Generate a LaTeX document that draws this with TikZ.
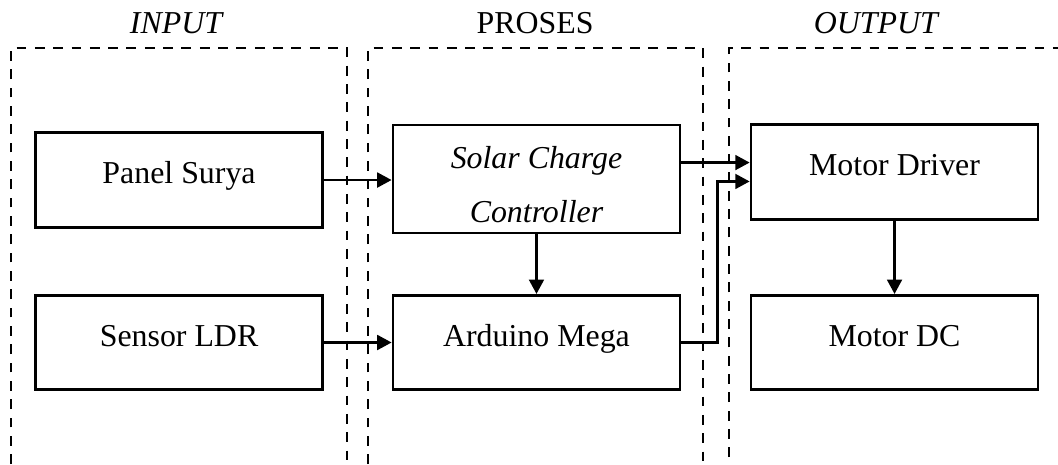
\documentclass[tikz,border=0pt]{standalone}
\usepackage{fontspec}
\setmainfont{Liberation Serif}
\usepackage{tikz}
\usetikzlibrary{positioning,arrows.meta,calc}

\begin{document}
\begin{tikzpicture}[
  font=\fontsize{12}{14}\selectfont,
  kotak/.style={
    draw=black, line width=1pt,
    minimum width=3.8cm, minimum height=1.25cm,
    fill=white, inner sep=2pt,
  },
  blok/.style={kotak, text height=8.5pt, text depth=5.7pt},
  blokdua/.style={kotak, minimum height=1.43cm, align=center,
    font=\fontsize{12}{20}\selectfont\itshape},
  panah/.style={draw=black, line width=0.85pt,
    -{Triangle[length=5.4pt,width=5.6pt]}},
  garis/.style={draw=black, line width=0.95pt,
    dash pattern=on 3.7pt off 3.2pt},
  judul/.style={font=\fontsize{12}{14}\selectfont, inner sep=1pt},
]

% ====================================================================
% Blok diagram sistem: INPUT - PROSES - OUTPUT
% ====================================================================

\useasboundingbox (0,0) rectangle (14,-6.14);

% === KELOMPOK (garis putus-putus, terbuka di bawah) ===
\draw[garis] (0.146,-6.14) |- (4.592,-0.635) -- (4.592,-6.14);
\draw[garis] (4.870,-6.14) |- (9.303,-0.635) -- (9.303,-6.14);
\draw[garis] (9.647,-6.05) |- (14.05,-0.635);

\node[judul] (tin)  at (2.329,-0.304)  {\itshape INPUT};
\node[judul] (tpro) at (7.080,-0.304)  {PROSES};
\node[judul] (tout) at (11.590,-0.304) {\itshape OUTPUT};

% === INPUT ===
\node[blok] (ps)  at (2.369,-2.382) {Panel Surya};
\node[blok] (ldr) at (2.369,-4.532) {Sensor LDR};

% === PROSES ===
\node[blokdua] (scc) at (7.099,-2.369) {\rule{0pt}{12.5pt}Solar Charge\\Controller};
\node[blok] (ard) at (7.099,-4.532) {Arduino Mega};

% === OUTPUT ===
\node[blok] (md) at (11.837,-2.276) {Motor Driver};
\node[blok] (dc) at (11.837,-4.532) {Motor DC};

% --- input ke proses ---
\draw[panah] (ps.east) -- (ps.east -| scc.west);
\draw[panah] (ldr.east) -- (ard.west);

% --- SCC ke Arduino ---
\draw[panah] (scc.south) -- (ard.north);

% --- proses ke driver ---
\coordinate (mdin1) at ($(md.west)+(0,0.125)$);
\coordinate (mdin2) at ($(md.west)+(0,-0.125)$);
\draw[panah] (scc.east |- mdin1) -- (mdin1);
\draw[panah] (ard.east) -- ++(0.476,0) |- (mdin2);

% --- driver ke motor ---
\draw[panah] (md.south) -- (dc.north);

\end{tikzpicture}
\end{document}
